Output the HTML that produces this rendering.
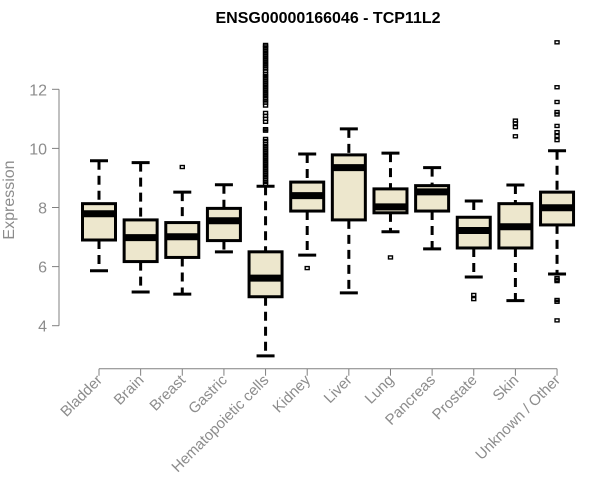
<!DOCTYPE html>
<html><head><meta charset="utf-8"><style>
body{margin:0;background:#fff;}
svg{display:block;font-family:"Liberation Sans",Arial,sans-serif;}
</style></head><body>
<svg id="chart" width="600" height="500">
<text x="328" y="23" text-anchor="middle" font-weight="bold" font-size="16">ENSG00000166046 - TCP11L2</text>
<text transform="translate(14,200) rotate(-90)" text-anchor="middle" font-size="16" fill="#8c8c8c">Expression</text>
<g id="yaxis"></g>
<g id="xaxis"></g>
<g id="boxes"></g>
</svg>
<script>
const categories=["Bladder","Brain","Breast","Gastric","Hematopoietic cells","Kidney","Liver","Lung","Pancreas","Prostate","Skin","Unknown / Other"];
const whiskerLow=[5.86,5.14,5.07,6.50,2.98,6.39,5.11,7.18,6.60,5.65,4.85,5.75];
const q1=[6.90,6.17,6.31,6.88,4.98,7.88,7.58,7.82,7.88,6.63,6.63,7.41];
const median=[7.79,6.98,7.01,7.55,5.61,8.40,9.35,8.02,8.53,7.22,7.35,7.99];
const q3=[8.13,7.58,7.49,7.97,6.50,8.86,9.78,8.63,8.74,7.67,8.13,8.52];
const whiskerHigh=[9.58,9.52,8.52,8.77,8.72,9.81,10.66,9.84,9.35,8.22,8.76,9.92];
const outliers=[[],[],[9.37],[],
[8.80,8.87,8.95,9.03,9.1,9.18,9.25,9.33,9.4,9.48,9.55,9.63,9.7,9.78,9.85,9.93,10.0,10.08,10.15,10.25,10.32,10.6,10.65,10.9,11.0,11.1,11.2,11.45,11.55,11.62,11.7,11.78,11.85,11.93,12.0,12.08,12.15,12.23,12.3,12.38,12.45,12.52,12.62,12.7,12.78,12.85,12.93,13.0,13.08,13.15,13.23,13.3,13.38,13.45,13.5],
[5.95],[],[6.31],[],[5.04,4.90],[10.94,10.85,10.72,10.41],
[13.59,12.07,11.57,11.23,11.15,10.76,10.55,10.42,10.28,5.61,5.55,5.51,4.87,4.81,4.18]];
const yTicks=[4,6,8,10,12];
const NS="http://www.w3.org/2000/svg";
function yS(v){return 325.7-(v-4)*29.55;}
function xS(i){return 99+i*41.64;}
function mk(tag,attrs,parent){const e=document.createElementNS(NS,tag);for(const k in attrs)e.setAttribute(k,attrs[k]);parent.appendChild(e);return e;}
const ya=document.getElementById('yaxis'),xa=document.getElementById('xaxis'),bx=document.getElementById('boxes');
mk('line',{x1:59,x2:59,y1:yS(12),y2:yS(4),stroke:'#808080'},ya);
yTicks.forEach(t=>{
 mk('line',{x1:52,x2:59,y1:yS(t),y2:yS(t),stroke:'#808080'},ya);
 const tx=mk('text',{x:47,y:yS(t)+6,'text-anchor':'end','font-size':16,fill:'#8c8c8c'},ya);
 tx.textContent=t;
 
 
});
mk('line',{x1:xS(0),x2:xS(categories.length-1),y1:368.7,y2:368.7,stroke:'#808080'},xa);
categories.forEach((c,i)=>{
 const x=xS(i);
 mk('line',{x1:x,x2:x,y1:368.7,y2:375.7,stroke:'#808080'},xa);
 const tx=mk('text',{transform:`translate(${x+4},381) rotate(-45)`,'text-anchor':'end','font-size':15,fill:'#8c8c8c'},xa);
 tx.textContent=c;
 
 
 const g=mk('g',{},bx);
 
 
 mk('line',{x1:x,x2:x,y1:yS(whiskerHigh[i]),y2:yS(q3[i]),stroke:'#000','stroke-width':3,'stroke-dasharray':'9,6'},g);
 mk('line',{x1:x,x2:x,y1:yS(q1[i]),y2:yS(whiskerLow[i]),stroke:'#000','stroke-width':3,'stroke-dasharray':'9,6'},g);
 mk('line',{x1:x-9,x2:x+9,y1:yS(whiskerHigh[i]),y2:yS(whiskerHigh[i]),stroke:'#000','stroke-width':3},g);
 mk('line',{x1:x-9,x2:x+9,y1:yS(whiskerLow[i]),y2:yS(whiskerLow[i]),stroke:'#000','stroke-width':3},g);
 mk('rect',{x:x-16.5,y:yS(q3[i]),width:33,height:yS(q1[i])-yS(q3[i]),fill:'#ede7cd',stroke:'#000','stroke-width':3},g);
 mk('line',{x1:x-16.5,x2:x+16.5,y1:yS(median[i]),y2:yS(median[i]),stroke:'#000','stroke-width':7},g);
 outliers[i].forEach(v=>{
  const r=mk('rect',{x:x-2,y:yS(v)-1.5,width:4,height:3,fill:'none',stroke:'#000','stroke-width':1.4},g);
  
  
 });
});
</script>
</body></html>
